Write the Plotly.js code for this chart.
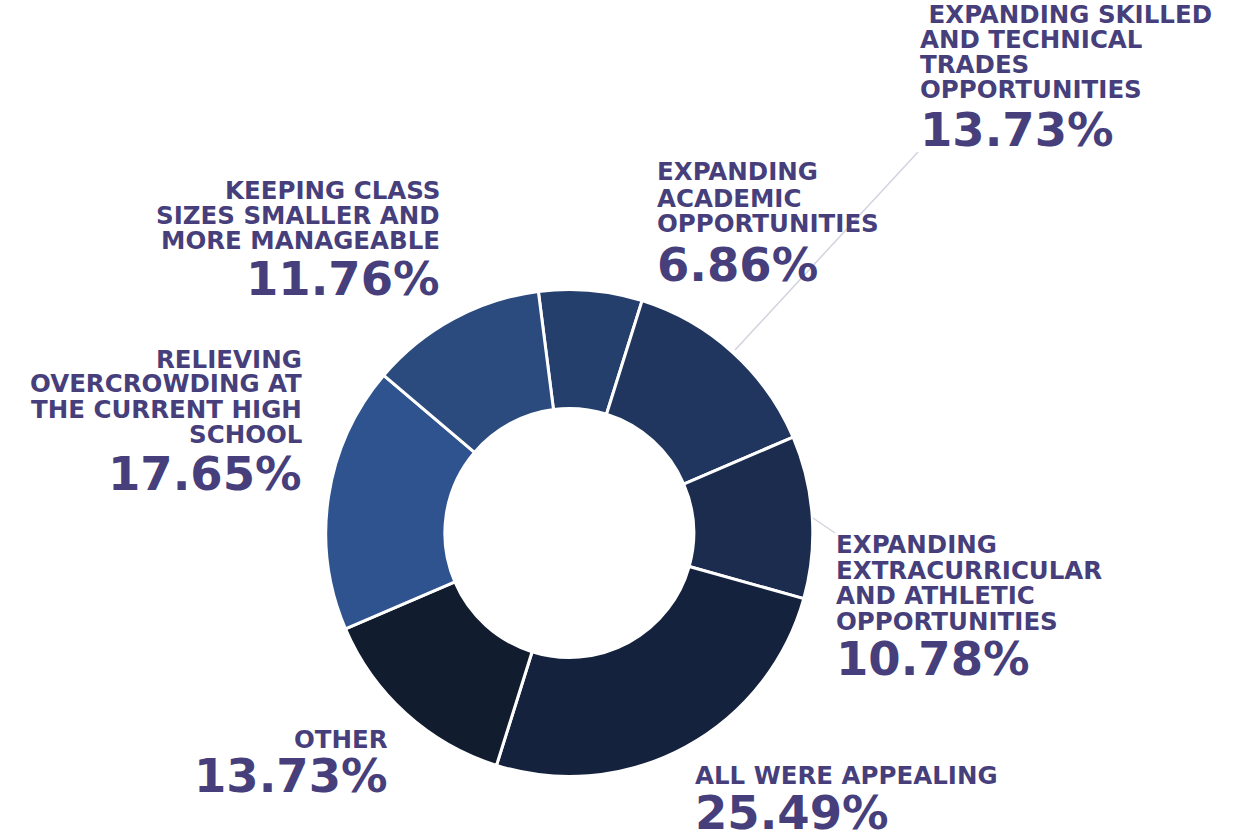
<!DOCTYPE html>
<html>
<head>
<meta charset="utf-8">
<script src="https://cdn.plot.ly/plotly-3.0.1.min.js"></script>
<style>html,body{margin:0;padding:0;background:#fff;}</style>
</head>
<body>
<div id="chart" style="width:1238px;height:840px;"></div>
<script>
// ---- data ----
const categories = [
  'Expanding academic opportunities',
  'Expanding skilled and technical trades opportunities',
  'Expanding extracurricular and athletic opportunities',
  'All were appealing',
  'Other',
  'Relieving overcrowding at the current high school',
  'Keeping class sizes smaller and more manageable'
];
const values = [6.86, 13.73, 10.78, 25.49, 13.73, 17.65, 11.76];
const sliceColors = ['#243f6c', '#20365e', '#1b2c4e', '#15223d', '#111c2f', '#2f538e', '#2b4a7e'];
const labelLines = [
  ['EXPANDING', 'ACADEMIC', 'OPPORTUNITIES'],
  [' EXPANDING SKILLED', 'AND TECHNICAL', 'TRADES', 'OPPORTUNITIES'],
  ['EXPANDING', 'EXTRACURRICULAR', 'AND ATHLETIC', 'OPPORTUNITIES'],
  ['ALL WERE APPEALING'],
  ['OTHER'],
  ['RELIEVING', 'OVERCROWDING AT', 'THE CURRENT HIGH', 'SCHOOL'],
  ['KEEPING CLASS', 'SIZES SMALLER AND', 'MORE MANAGEABLE']
];

// ---- layout of labels (pixel positions) ----
const W = 1238, H = 840;
const labelPlacement = [
  {x: 656, side: 'left', lines: [172, 198, 223.5], pct: 265},
  {x: 919, side: 'left', lines: [14.5, 39, 64.5, 90], pct: 130},
  {x: 835, side: 'left', lines: [544, 570, 595, 621], pct: 659},
  {x: 694, side: 'left', lines: [775], pct: 813},
  {x: 389, side: 'right', lines: [739.5], pct: 776},
  {x: 303, side: 'right', lines: [359, 384, 409, 434], pct: 474},
  {x: 441, side: 'right', lines: [191, 216, 241], pct: 279}
];
const textColor = '#463f7b';
const fontFam = 'DejaVu Sans, sans-serif';

const annotations = [];
categories.forEach((c, i) => {
  const p = labelPlacement[i];
  labelLines[i].forEach((t, j) => {
    annotations.push({
      xref: 'paper', yref: 'paper', x: p.x / W, y: 1 - p.lines[j] / H,
      xanchor: p.side, yanchor: 'middle', showarrow: false, borderpad: 0,
      text: t.replace(/ /g, '&nbsp;'), align: p.side,
      font: {family: fontFam, size: 24.5, color: textColor, weight: 'bold'}
    });
  });
  annotations.push({
    xref: 'paper', yref: 'paper', x: p.x / W, y: 1 - p.pct / H,
    xanchor: p.side, yanchor: 'middle', showarrow: false, borderpad: 0,
    text: values[i].toFixed(2) + '%', align: p.side,
    font: {family: fontFam, size: 46.5, color: textColor, weight: 'bold'}
  });
});

const cx = 569.3, cy = 533, R = 243.5;
const trace = {
  type: 'pie',
  labels: categories,
  values: values,
  sort: false,
  direction: 'clockwise',
  rotation: -7.3,
  hole: 0.511,
  textinfo: 'none',
  hoverinfo: 'label+percent',
  marker: {colors: sliceColors, line: {color: '#ffffff', width: 3}},
  domain: {x: [(cx - R) / W, (cx + R) / W], y: [(H - cy - R) / H, (H - cy + R) / H]},
  showlegend: false
};

const shapes = [
  {type: 'line', xref: 'paper', yref: 'paper', x0: 735 / W, y0: 1 - 350 / H, x1: 918 / W, y1: 1 - 152 / H,
   line: {color: '#d3d3df', width: 1.5}},
  {type: 'line', xref: 'paper', yref: 'paper', x0: 813 / W, y0: 1 - 518 / H, x1: 835 / W, y1: 1 - 533 / H,
   line: {color: '#d3d3df', width: 1.5}}
];

const layout = {
  width: W, height: H,
  margin: {l: 0, r: 0, t: 0, b: 0},
  paper_bgcolor: '#ffffff',
  plot_bgcolor: '#ffffff',
  showlegend: false,
  annotations: annotations,
  shapes: shapes
};

Plotly.newPlot('chart', [trace], layout, {displayModeBar: false});
</script>
</body>
</html>
